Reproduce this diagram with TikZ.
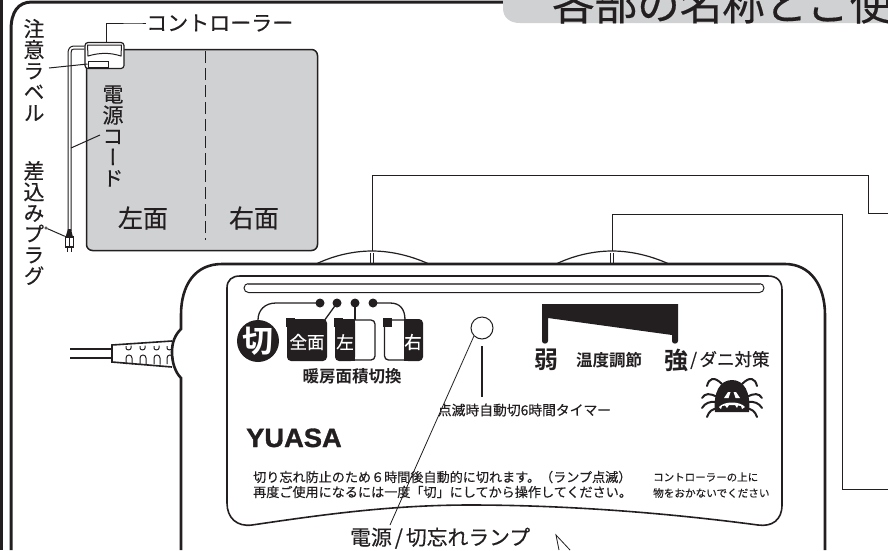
\documentclass[tikz,border=0pt]{standalone}
\usepackage{fontspec}
\setmainfont[FakeBold=0.35]{Noto Sans CJK JP}
\newfontfamily\boldfont{Noto Sans CJK JP Bold}
\newfontfamily\tatefont[RawFeature=+vert, FakeBold=0.35]{Noto Sans CJK JP}
\newfontfamily\logofont[FakeBold=1.2, FakeStretch=1.03]{Liberation Sans Bold}
\usetikzlibrary{arrows.meta, positioning, shapes, calc}

\definecolor{sheetgray}{HTML}{D0D1D3}
\definecolor{ink}{HTML}{231F20}

\newcommand{\fs}[1]{\fontsize{#1}{#1}\selectfont}

\tikzset{
    thinline/.style={draw=ink, line width=0.8pt},
    leader/.style={draw=ink, line width=1pt},
    heavyline/.style={draw=ink, line width=2.2pt},
    miteleg/.style={draw=ink, line width=2pt, line cap=round},
    tate/.style={inner sep=0pt, align=center, text=ink, font=\fontsize{21}{21}\tatefont},
    label/.style={inner sep=0pt, text=ink},
    swdot/.style={circle, fill=ink, minimum size=9pt, inner sep=0pt},
    swtab/.style={fill=ink, minimum size=9pt, inner sep=0pt},
    swtext/.style={inner sep=0pt, text=white, font=\fs{17.5}},
}

\begin{document}
\begin{tikzpicture}[x=1pt, y=-1pt]
    \useasboundingbox (0,0) rectangle (888,550);

    % outer frame
    \draw[heavyline, line width=3pt] (1,0) -- (1,550);
    \draw[heavyline, line width=3pt] (11,550) -- (11,30) .. controls (11,12) and (18,2) .. (32,2) -- (510,2);

    % title tab
    \fill[sheetgray] (503,0) -- (503,8) .. controls (503,18) and (510,23) .. (520,23) -- (888,23) -- (888,0) -- cycle;
    \node (title) [label, anchor=base west, font=\fs{42.5}] at (552,20) {各部の名称とご使};

    % small sheet
    \node (sheet) [draw=ink, line width=1.5pt, fill=sheetgray, rounded corners=6pt, minimum width=231pt, minimum height=201pt, inner sep=0pt] at (202,150) {};
    \draw[thinline, line width=1pt, dash pattern=on 12pt off 5pt] (205,51) -- (205,240);
    \node (left) [label, font=\fs{25}] at (143,218) {左面};
    \node (right) [label, font=\fs{25}] at (254,218) {右面};
    \node (cordname) [tate] at (113,136) {電\\源\\コ\\ー\\ド};

    % small controller
    \node (mini) [draw=ink, line width=1.2pt, fill=white, rounded corners=3pt, minimum width=39pt, minimum height=26pt, inner sep=0pt] at (104.5,55.5) {};
    \draw[thinline, line width=1pt] (87.5,45) -- (121.5,45) -- (121,56) .. controls (110,52.5) and (100,52.5) .. (88,56) -- cycle;
    \node (tag) [draw=ink, line width=1pt, fill=white, minimum width=20pt, minimum height=6pt, inner sep=0pt] at (98,64) {};

    % cord and plug
    \draw[thinline, line width=1pt] (mini.west |- 0,46) -- (74,46) .. controls (70,46) and (68,49) .. (68,53) -- (68,231);
    \draw[thinline, line width=1pt] (mini.west |- 0,49) -- (74,49) .. controls (72,49) and (71,50) .. (71,53) -- (71,231);
    \fill[ink] (68,229) -- (71,229) -- (73,237) -- (65.5,237) -- cycle;
    \node (plug) [draw=ink, fill=white, line width=1.5pt, minimum width=8pt, minimum height=10pt, inner sep=0pt] at (69.5,242) {};
    \draw[thinline, line width=1.2pt] (69.5,237) -- (69.5,247);
    \draw[thinline, line width=1.4pt] (67.5,247) -- (67.5,252) (71.5,247) -- (71.5,252);

    % labels of the small drawing
    \node (ctrlname) [label, anchor=west, font=\fs{21}] at (146,23) {コントローラー};
    \node (noticename) [tate] at (34,70) {注\\意\\ラ\\ベ\\ル};
    \node (plugname) [tate] at (34,223) {差\\込\\み\\プ\\ラ\\グ};
    \coordinate (noticeend) at (49,68);
    \coordinate (cordend) at (100,135);
    \coordinate (cordtouch) at (71,148);
    \node (plugend) [circle, draw=ink, line width=0.6pt, fill=white, minimum size=2.5pt, inner sep=0pt] at (46,228) {};
    \draw[leader] (ctrlname.west) -- ++(-6,0) -| (mini.north -| 106,0);
    \draw[leader] (noticeend) -- (tag.west);
    \draw[leader] (cordend) -- (cordtouch);
    \draw[leader] (plugend) -- (plug.north west);

    % dials behind the controller
    \coordinate (dialA) at (372,251);
    \coordinate (dialB) at (612,251);
    \foreach \dial in {dialA, dialB} {
        \draw[leader, line width=1.2pt] ($(\dial)+(-56,13)$) .. controls ($(\dial)+(-35,3)$) and ($(\dial)+(-15,0)$) .. (\dial) .. controls ($(\dial)+(15,0)$) and ($(\dial)+(35,3)$) .. ($(\dial)+(57,13)$);
        \draw[thinline] ($(\dial)+(-1.5,2)$) -- ($(\dial)+(-1.5,13)$);
        \draw[thinline] ($(\dial)+(1.5,2)$) -- ($(\dial)+(1.5,13)$);
    }

    % leaders to the right
    \coordinate (exitA) at (888,213);
    \coordinate (exitB) at (888,489);
    \draw[leader] (dialA) -- (372,175) -- (868,175) -- (868,213) -- (exitA);
    \draw[leader] (dialB) -- (612,214) -- (842,214) -- (842,489) -- (exitB);

    % controller body
    \draw[heavyline, line width=2.6pt] (181,550) -- (181,378) .. controls (175,372) and (172,362) .. (172,352) .. controls (172,342) and (175,335) .. (181,329) -- (181,315) .. controls (181,285) and (195,264) .. (222,264) -- (785,264) .. controls (810,264) and (825,285) .. (825,315) -- (825,550);

    % strain relief and mains cord
    \draw[leader, line width=1.5pt] (70,349) -- (112,349) (70,358) -- (112,358);
    \draw[leader, line width=1.6pt] (172,341) -- (112,345) -- (112,362) -- (172,367);
    \foreach \x in {126,140,154,167} {
        \draw[thinline, line width=1pt] (\x,346) -- (\x,348) .. controls (\x,350.5) and (\x+5,350.5) .. (\x+5,348) -- (\x+5,345.5);
        \draw[thinline, line width=1pt] (\x,364) -- (\x,358) .. controls (\x,354) and (\x+6,354) .. (\x+6,358) -- (\x+6,364.5);
    }

    % panel
    \draw[heavyline, line width=1.6pt] (227,503) -- (227,288) .. controls (227,280) and (232,276) .. (240,276) -- (768,276) .. controls (777,276) and (782,281) .. (782,290) -- (782,505) .. controls (782,520) and (772,527) .. (758,525) .. controls (660,512) and (560,505) .. (470,505) .. controls (390,505) and (320,515) .. (252,525) .. controls (237,527) and (227,518) .. (227,503);
    \node (slot) [draw=ink, line width=1pt, rounded corners=4.5pt, minimum width=520pt, minimum height=9pt, inner sep=0pt] at (504,288) {};
    \draw[draw=ink!70, line width=2pt] (248,284) -- (760,284);

    % area switch
    \foreach \name/\x in {dotA/320, dotB/337, dotC/355, dotD/373} {
        \node (\name) [swdot] at (\x,303) {};
    }
    \node (off) [circle, fill=ink, minimum size=38pt, inner sep=0pt, text=white, font=\fs{31}\boldfont] at (258,341) {切};
    \fill[ink, rounded corners=4pt] (287,319) -- (327,319) -- (327,361) -- (287,361) -- cycle;
    \fill[ink, rounded corners=4pt] (335,319) -- (355,319) -- (355,361) -- (335,361) -- cycle;
    \fill[ink] (345,319) rectangle (355,361);
    \draw[leader, line width=1.3pt, rounded corners=4pt] (355,320) -- (375,320) -- (375,360) -- (355,360);
    \fill[ink, rounded corners=4pt] (404,319) -- (423,319) -- (423,361) -- (404,361) -- cycle;
    \fill[ink] (404,319) rectangle (414,361);
    \draw[leader, line width=1.3pt, rounded corners=4pt] (404,320) -- (384.5,320) -- (384.5,360) -- (404,360);
    \foreach \name/\x in {tabA/290.5, tabB/338.5, tabC/387} {
        \node (\name) [swtab] at (\x,322.5) {};
    }
    \node (allface) [swtext] at (307,342) {全面};
    \node (leftface) [swtext] at (345,342) {左};
    \node (rightface) [swtext] at (413,342) {右};
    \node (areaname) [label, font=\fs{16.5}\boldfont] at (352,376) {暖房面積切換};
    \draw[leader, line width=1.3pt] (dotA.center) -- (276,303) .. controls (265,303) and (258,310) .. (258,320) -- (off.north);
    \draw[leader, line width=1.3pt] (dotB.center) -- (324,321);
    \draw[leader, line width=1.3pt] (dotC.center) -- (355,320);
    \draw[leader, line width=1.3pt] (dotD.center) -- (390,303) .. controls (400,303) and (405,309) .. (405,320);

    % lamp
    \node (lamp) [circle, draw=ink, line width=1pt, fill=white, minimum size=22pt, inner sep=0pt] at (482,328) {};
    \node (timer) [label, font=\fs{13.8}] at (524.5,410) {点滅時自動切6時間タイマー};
    \coordinate (timertop) at (482,397);
    \coordinate (lamptip) at (482,346);
    \draw[leader, line width=1.6pt] (lamptip) -- (timertop);
    \node (lampname) [label, anchor=base west, font=\fs{20.8}] at (350,545) {電源\kern3pt/\kern3pt切忘れランプ};
    \coordinate (lampend) at (390,525);
    \draw[thinline] (lamp.south west) -- (lampend);

    % temperature wedge
    \fill[ink] (542,304) -- (678,304) -- (678,341) .. controls (678,344.5) and (672,344.5) .. (672,341) -- (672,335) -- (548,318) -- (548,341) .. controls (548,344.5) and (542,344.5) .. (542,341) -- cycle;
    \node (weak) [label, font=\fs{24}\boldfont] at (546,360) {弱};
    \node (tempname) [label, font=\fs{16.5}\boldfont] at (609,360) {温度調節};
    \node (strong) [label, font=\fs{24}\boldfont] at (676,360) {強};
    \node (mitename) [label, anchor=west, font=\fs{17.5}] at (690,360) {/\kern2.5ptダニ対策};

    % mite
    \fill[ink] (715,412) .. controls (713,392) and (720,380) .. (732,380) .. controls (744,380) and (751,392) .. (749,412) -- cycle;
    \foreach \s in {1,-1} {
        \draw[miteleg] (732+\s*25,386) .. controls (732+\s*23,378) and (732+\s*18,376) .. (732+\s*10,384);
        \draw[miteleg] (732+\s*30,398) .. controls (732+\s*27,393) and (732+\s*22,393) .. (732+\s*15,397);
        \draw[miteleg] (732+\s*30,408) .. controls (732+\s*27,403) and (732+\s*22,401) .. (732+\s*15,402);
        \draw[miteleg] (732+\s*25,417) .. controls (732+\s*23,411) and (732+\s*20,409) .. (732+\s*13,408);
    }
    \foreach \s in {1,-1} {
        \fill[white] (732+\s*1.5,392) -- (732+\s*4,392) -- (732+\s*8,398) -- (732+\s*3.5,398) -- cycle;
    }
    \fill[white] (719,407) .. controls (724,401) and (740,401) .. (745,407) -- (742,409) -- (741,406) -- (738,405.5) -- (737,408) -- (735,405) -- (729,405) -- (727,408) -- (725,405.5) -- (722,406) -- (721,409) -- cycle;

    % logo and notes
    \node (logo) [label, anchor=base west, font=\fs{26.5}\logofont] at (246,447) {YUASA};
    \node (noteA) [label, anchor=west, font=\fs{13.1}] at (253,477) {切り忘れ防止のため６時間後自動的に切れます。（ランプ点滅）};
    \node (noteB) [label, anchor=west, font=\fs{13.1}] at (253,492) {再度ご使用になるには一度「切」にしてから操作してください。};
    \node (noteC) [label, anchor=west, font=\fs{10.5}] at (653,477) {コントローラーの上に};
    \node (noteD) [label, anchor=west, font=\fs{10.6}] at (653,493) {物をおかないでください};

    % pointer at the lower edge
    \coordinate (ptrtip) at (556,535);
    \coordinate (ptrleft) at (559,550);
    \coordinate (ptrright) at (570,550);
    \draw[thinline] (ptrleft) -- (ptrtip) -- (ptrright);
\end{tikzpicture}
\end{document}
